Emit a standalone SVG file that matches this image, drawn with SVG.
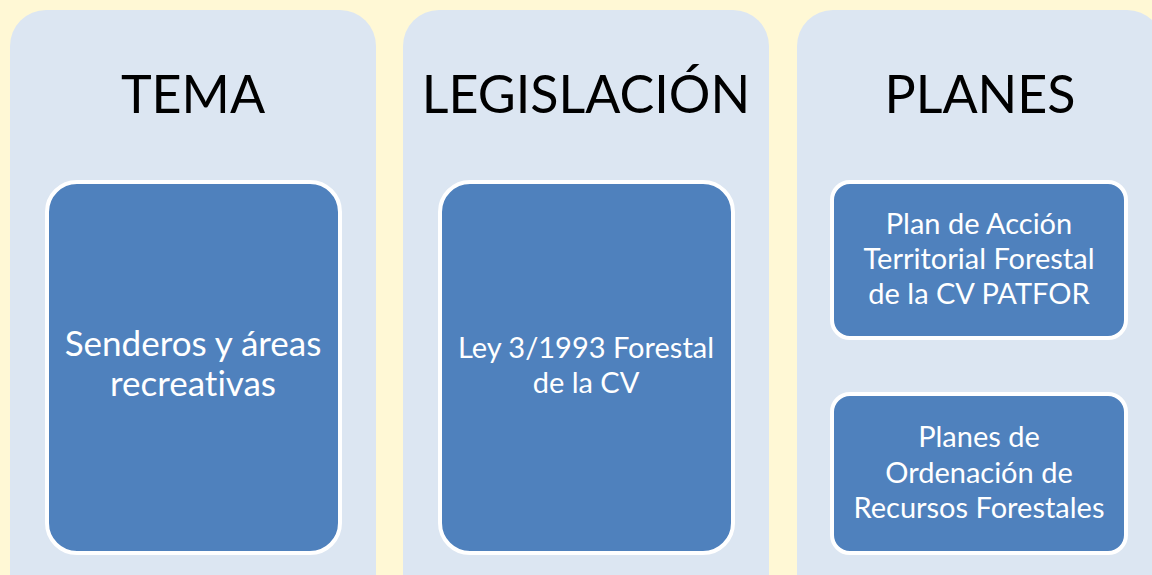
<svg xmlns="http://www.w3.org/2000/svg" width="1152" height="575" viewBox="0 0 1152 575">
<style>
.bg{fill:#FFF8D5}
.panel{fill:#DCE6F2}
.box{fill:#4F81BD;stroke:#FFFFFF;stroke-width:4}
.title{font-family:Lato,"Liberation Sans",sans-serif;font-size:52px;fill:#000000;text-anchor:middle;font-variant-ligatures:none}
.lbl{font-family:Lato,"Liberation Sans",sans-serif;fill:#FFFFFF;text-anchor:middle;font-variant-ligatures:none;font-feature-settings:"liga" 0,"dlig" 0}
.big{font-size:35px}
.sm{font-size:29px}
</style>
<rect class="bg" x="0" y="0" width="1152" height="575"/>
<g id="tema">
<rect class="panel" x="10" y="10" width="366" height="620" rx="36"/>
<text class="title" x="193" y="113">TEMA</text>
</g>
<g id="senderos">
<rect class="box" x="47" y="182" width="293" height="371" rx="30"/>
<text class="lbl big" x="193" y="356">Senderos y áreas</text>
<text class="lbl big" x="193" y="396">recreativas</text>
</g>
<g id="legislacion">
<rect class="panel" x="403" y="10" width="366" height="620" rx="36"/>
<text class="title" x="586" y="113">LEGISLACIÓN</text>
</g>
<g id="ley">
<rect class="box" x="440" y="182" width="293" height="371" rx="30"/>
<text class="lbl sm" x="586" y="358">Ley 3/1993 Forestal</text>
<text class="lbl sm" x="586" y="393">de la CV</text>
</g>
<g id="planes">
<rect class="panel" x="797" y="10" width="366" height="620" rx="36"/>
<text class="title" x="980" y="113">PLANES</text>
</g>
<g id="patfor">
<rect class="box" x="832" y="182" width="294" height="156" rx="18"/>
<text class="lbl sm" x="979" y="234">Plan de Acción</text>
<text class="lbl sm" x="979" y="269">Territorial Forestal</text>
<text class="lbl sm" x="979" y="304">de la CV PATFOR</text>
</g>
<g id="ordenacion">
<rect class="box" x="832" y="394" width="294" height="159" rx="18"/>
<text class="lbl sm" x="979" y="447">Planes de</text>
<text class="lbl sm" x="979" y="483">Ordenación de</text>
<text class="lbl sm" x="979" y="518">Recursos Forestales</text>
</g>
<g id="connectors"></g>
</svg>
